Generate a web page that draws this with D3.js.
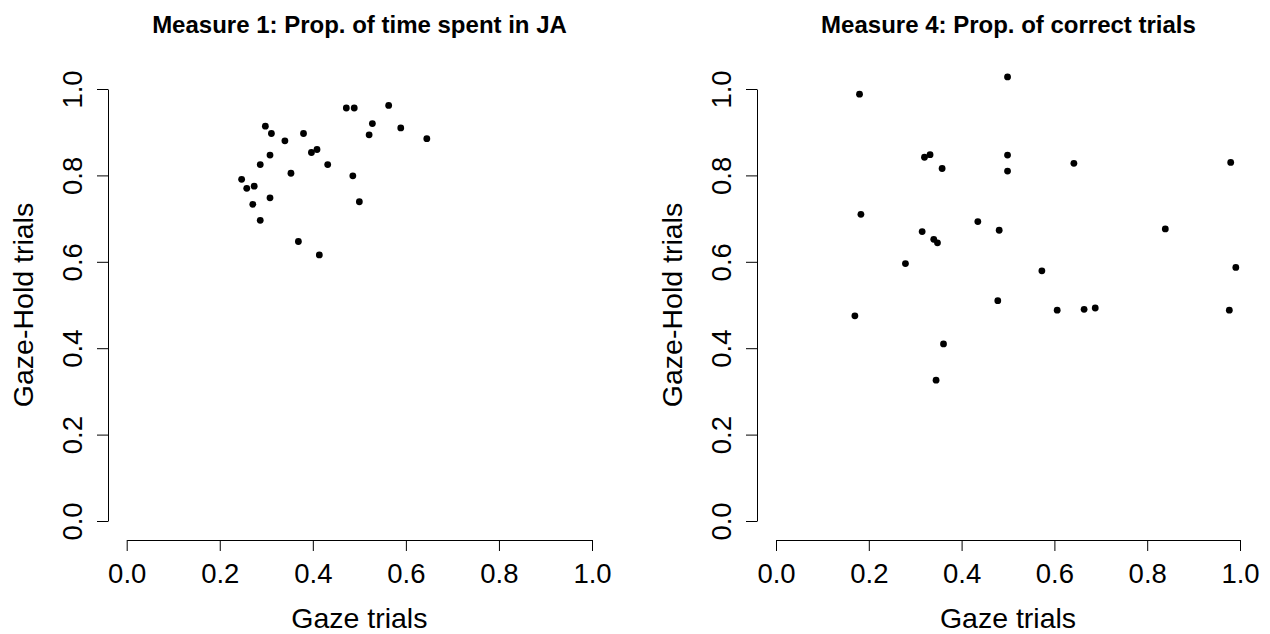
<!DOCTYPE html>
<html>
<head>
<meta charset="utf-8">
<script src="https://cdn.jsdelivr.net/npm/d3@7"></script>
<style>
  html, body { margin: 0; padding: 0; background: #fff; }
  svg { display: block; }
  text { font-family: "Liberation Sans", Arial, sans-serif; fill: #000; }
</style>
</head>
<body>
<svg id="chart" width="1270" height="634"></svg>
<script>
// ---- Data ----
const titles = ["Measure 1: Prop. of time spent in JA", "Measure 4: Prop. of correct trials"];
const xLabel = "Gaze trials";
const yLabel = "Gaze-Hold trials";
const tickValues = [0, 0.2, 0.4, 0.6, 0.8, 1.0];

// Measure 1
const m1Gaze = [0.472, 0.489, 0.563, 0.298, 0.311, 0.528, 0.589, 0.521, 0.645, 0.380,
                0.340, 0.397, 0.409, 0.308, 0.432, 0.287, 0.353, 0.486, 0.247, 0.258,
                0.274, 0.308, 0.271, 0.500, 0.287, 0.369, 0.414];
const m1Hold = [0.956, 0.956, 0.962, 0.914, 0.897, 0.920, 0.910, 0.894, 0.885, 0.897,
                0.880, 0.853, 0.860, 0.847, 0.825, 0.825, 0.805, 0.799, 0.791, 0.770,
                0.775, 0.748, 0.733, 0.739, 0.696, 0.647, 0.616];

// Measure 4
const m4Gaze = [0.499, 0.180, 0.332, 0.320, 0.499, 0.358, 0.499, 0.183, 0.435, 0.315,
                0.481, 0.340, 0.348, 0.279, 0.573, 0.478, 0.170, 0.361, 0.345, 0.642,
                0.980, 0.839, 0.991, 0.606, 0.664, 0.688, 0.977];
const m4Hold = [1.028, 0.988, 0.848, 0.842, 0.847, 0.816, 0.810, 0.710, 0.693, 0.670,
                0.673, 0.652, 0.644, 0.596, 0.579, 0.510, 0.475, 0.410, 0.326, 0.828,
                0.830, 0.676, 0.587, 0.488, 0.490, 0.493, 0.488];

// ---- Layout ----
const svg = d3.select("#chart");
const panels = [
  { title: titles[0], gx: m1Gaze, gy: m1Hold, x0: 126.7, x1: 592, yAxisX: 108, cx: 359.5 },
  { title: titles[1], gx: m4Gaze, gy: m4Hold, x0: 776, x1: 1240, yAxisX: 757, cx: 1008.5 }
];
const yTop = 89, yBot = 521, xAxisY = 540;
const fmt = d3.format(".1f");

panels.forEach(p => {
  const x = d3.scaleLinear().domain([0, 1]).range([p.x0, p.x1]);
  const y = d3.scaleLinear().domain([0, 1]).range([yBot, yTop]);
  const g = svg.append("g");

  // title
  g.append("text")
    .attr("x", p.cx).attr("y", 33)
    .attr("text-anchor", "middle")
    .style("font-size", "24px").style("font-weight", "bold")
    .text(p.title);

  // x axis
  const xa = g.append("g").attr("transform", `translate(0,${xAxisY})`)
    .call(d3.axisBottom(x).tickValues(tickValues).tickFormat(fmt)
      .tickSize(11).tickSizeOuter(0).tickPadding(12));
  xa.selectAll("path, line").attr("stroke", "#000").attr("stroke-width", 1);
  xa.selectAll("text").style("font-size", "27.5px").attr("fill", "#000");

  // y axis
  const ya = g.append("g").attr("transform", `translate(${p.yAxisX},0)`)
    .call(d3.axisLeft(y).tickValues(tickValues).tickFormat(fmt)
      .tickSize(11).tickSizeOuter(0));
  ya.selectAll("path, line").attr("stroke", "#000").attr("stroke-width", 1);
  ya.selectAll("text")
    .attr("x", null).attr("dy", null)
    .attr("text-anchor", "middle")
    .attr("transform", "translate(-26,0) rotate(-90)")
    .style("font-size", "27.5px").attr("fill", "#000");

  // axis labels
  g.append("text")
    .attr("x", (p.x0 + p.x1) / 2).attr("y", 628)
    .attr("text-anchor", "middle")
    .style("font-size", "28.5px")
    .text(xLabel);
  g.append("text")
    .attr("transform", `translate(${p.yAxisX - 75},${(yTop + yBot) / 2}) rotate(-90)`)
    .attr("text-anchor", "middle")
    .style("font-size", "28.5px")
    .text(yLabel);

  // points
  g.append("g").selectAll("circle")
    .data(p.gx.map((v, i) => [v, p.gy[i]]))
    .join("circle")
    .attr("cx", d => x(d[0]))
    .attr("cy", d => y(d[1]))
    .attr("r", 3.4)
    .attr("fill", "#000");
});
</script>
</body>
</html>
